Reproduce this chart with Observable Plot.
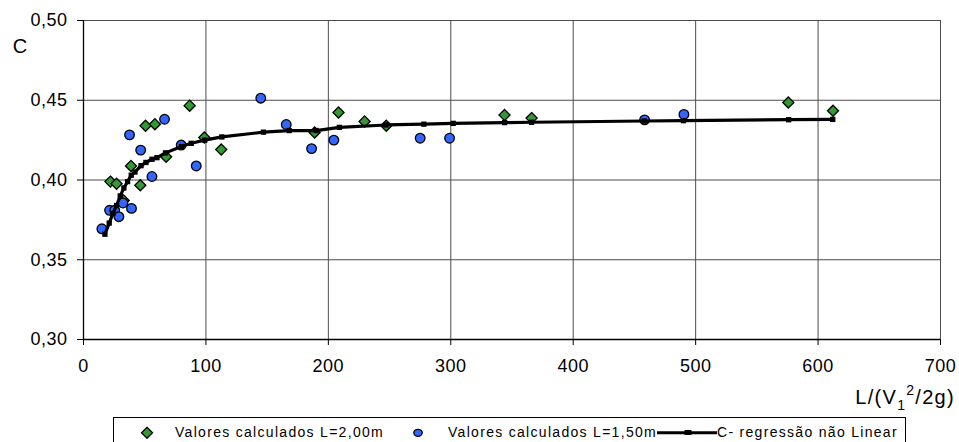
<!DOCTYPE html>
<html>
<head>
<meta charset="utf-8">
<script src="https://cdn.jsdelivr.net/npm/d3@7"></script>
<script src="https://cdn.jsdelivr.net/npm/@observablehq/plot@0.6"></script>
<style>
  html, body { margin: 0; padding: 0; background: #fff; }
  #wrap { position: relative; width: 959px; height: 442px; overflow: hidden; font-family: "Liberation Sans", Arial, sans-serif; }
  #chart svg { display: block; }
  #legend { position: absolute; left: 113px; top: 417px; width: 793px; height: 30px; border: 1px solid #000; box-sizing: border-box; background: #fff; }
  .lt { position: absolute; top: 6px; font-size: 14px; letter-spacing: 1.3px; line-height: 16px; white-space: nowrap; color: #000; }
  .sym { position: absolute; top: 0; }
</style>
</head>
<body>
<div id="wrap">
  <div id="chart"></div>
  <div id="legend"></div>
</div>
<script>
// ---- data ----
const xTicks = [0, 100, 200, 300, 400, 500, 600, 700];
const yTicks = [0.30, 0.35, 0.40, 0.45, 0.50];

// Valores calculados L=2,00m (green diamonds)
const greenX = [22, 27, 32.8, 38.8, 46.4, 50.7, 58.3, 67.5, 86.7, 98.7, 112.5, 188.8, 208.3, 229.6, 247.3, 343.9, 366, 575.7, 612.2];
const greenC = [0.399, 0.3976, 0.3872, 0.4088, 0.3967, 0.434, 0.435, 0.4146, 0.4466, 0.4266, 0.4191, 0.4298, 0.4423, 0.4367, 0.434, 0.4407, 0.4388, 0.4486, 0.4434];

// Valores calculados L=1,50m (blue circles)
const blueX = [15, 21.3, 25.5, 28.9, 32.2, 39.2, 37.6, 46.7, 55.9, 66.2, 79.8, 92.1, 144.8, 165.6, 186.3, 204.5, 275, 299, 458.3, 490.4];
const blueC = [0.3694, 0.381, 0.381, 0.377, 0.3856, 0.3822, 0.4283, 0.4187, 0.4022, 0.4381, 0.4219, 0.4088, 0.4513, 0.4348, 0.4197, 0.425, 0.4262, 0.4262, 0.4377, 0.4411];

// C - regressão não Linear (black line with small squares)
const regX = [17.5, 21, 24, 27, 30, 33, 36, 39, 42, 47, 51, 56, 60, 67, 80, 88, 99, 113, 147, 168, 190, 209, 247, 278, 302, 344, 366, 458, 490, 576, 612];
const regC = [0.366, 0.373, 0.379, 0.384, 0.390, 0.395, 0.399, 0.403, 0.405, 0.409, 0.411, 0.413, 0.414, 0.417, 0.421, 0.423, 0.425, 0.427, 0.430, 0.431, 0.431, 0.433, 0.4345, 0.435, 0.4355, 0.436, 0.4362, 0.437, 0.4372, 0.4378, 0.438];

const legendLabels = ["Valores calculados L=2,00m", "Valores calculados L=1,50m", "C- regressão não Linear"];
const yLabel = "C";

// ---- build tables ----
const green = greenX.map((x, i) => ({x, c: greenC[i]}));
const blue = blueX.map((x, i) => ({x, c: blueC[i]}));
const reg = regX.map((x, i) => ({x, c: regC[i]}));

const GREEN = "#339933", BLUE = "#3366ff";
const fmtY = d => d.toFixed(2).replace(".", ",");

const chart = Plot.plot({
  width: 959,
  height: 415,
  marginLeft: 83,
  marginRight: 19,
  marginTop: 20,
  marginBottom: 76,
  style: { fontFamily: "'Liberation Sans', Arial, sans-serif", fontSize: "18px", color: "#000", background: "#fff", overflow: "visible" },
  x: { domain: [0, 700], label: null },
  y: { domain: [0.30, 0.50], label: null },
  marks: [
    Plot.gridX(xTicks, { stroke: "#4d4d4d", strokeOpacity: 1, strokeWidth: 1 }),
    Plot.gridY(yTicks, { stroke: "#4d4d4d", strokeOpacity: 1, strokeWidth: 1 }),
    Plot.axisX({ ticks: xTicks, tickFormat: d3.format("d"), tickSize: 6, tickPadding: 14, stroke: "#000", strokeOpacity: 1, fill: "#000", label: null }),
    Plot.axisY({ ticks: yTicks, tickFormat: fmtY, tickSize: 6, tickPadding: 10, stroke: "#000", strokeOpacity: 1, fill: "#000", label: null }),
    Plot.ruleX([0], { stroke: "#000", strokeWidth: 1.3 }),
    Plot.ruleY([0.30], { stroke: "#000", strokeWidth: 1.3 }),
    Plot.dot(green, { x: "x", y: "c", symbol: "diamond2", r: 5, fill: GREEN, stroke: "#000", strokeWidth: 1.3 }),
    Plot.dot(blue, { x: "x", y: "c", symbol: "circle", r: 4.8, fill: BLUE, stroke: "#000", strokeWidth: 1.3 }),
    Plot.line(reg, { x: "x", y: "c", stroke: "#000", strokeWidth: 3.2, curve: "linear" }),
    Plot.dot(reg, { x: "x", y: "c", symbol: "square", r: 3, fill: "#000", stroke: "none" })
  ]
});
document.getElementById("chart").appendChild(chart);

// axis titles
const svg = d3.select(chart);
svg.selectAll("g[aria-label='x-axis tick label'] text, g[aria-label='y-axis tick label'] text").style("letter-spacing", "0.5px");
svg.append("text")
  .attr("x", 20).attr("y", 48).attr("text-anchor", "middle").attr("dominant-baseline", "middle")
  .attr("font-size", 20).attr("fill", "#000").text(yLabel);
const t = svg.append("text")
  .attr("x", 955).attr("y", 404).attr("text-anchor", "end")
  .attr("font-size", 20).attr("fill", "#000").style("letter-spacing", "1.3px");
t.append("tspan").text("L/(V");
t.append("tspan").attr("font-size", 14).attr("dy", 6).text("1");
t.append("tspan").attr("font-size", 14).attr("dy", -15).text("2");
t.append("tspan").attr("dy", 9).text("/2g)");

// legend
const legend = document.getElementById("legend");
const L = 113 + 1; // left border offset
function addSvg(left, width, inner) {
  const s = document.createElement("div");
  s.className = "sym";
  s.style.left = (left - L) + "px";
  s.innerHTML = `<svg width="${width}" height="28" style="display:block">${inner}</svg>`;
  legend.appendChild(s);
}
function addText(left, txt) {
  const d = document.createElement("div");
  d.className = "lt";
  d.style.left = (left - L) + "px";
  d.textContent = txt;
  legend.appendChild(d);
}
addSvg(140, 14, `<polygon points="7,9.3 12.5,14.8 7,20.3 1.5,14.8" fill="${GREEN}" stroke="#000" stroke-width="1.3"/>`);
addText(175, legendLabels[0]);
addSvg(412, 14, `<ellipse cx="6" cy="14.8" rx="4.2" ry="3.5" fill="${BLUE}" stroke="#000" stroke-width="1.3"/>`);
addText(448, legendLabels[1]);
addSvg(657, 62, `<line x1="0" y1="14.8" x2="60" y2="14.8" stroke="#000" stroke-width="3"/><rect x="27.5" y="12" width="7" height="5" fill="#000"/>`);
addText(717, legendLabels[2]);
</script>
</body>
</html>
